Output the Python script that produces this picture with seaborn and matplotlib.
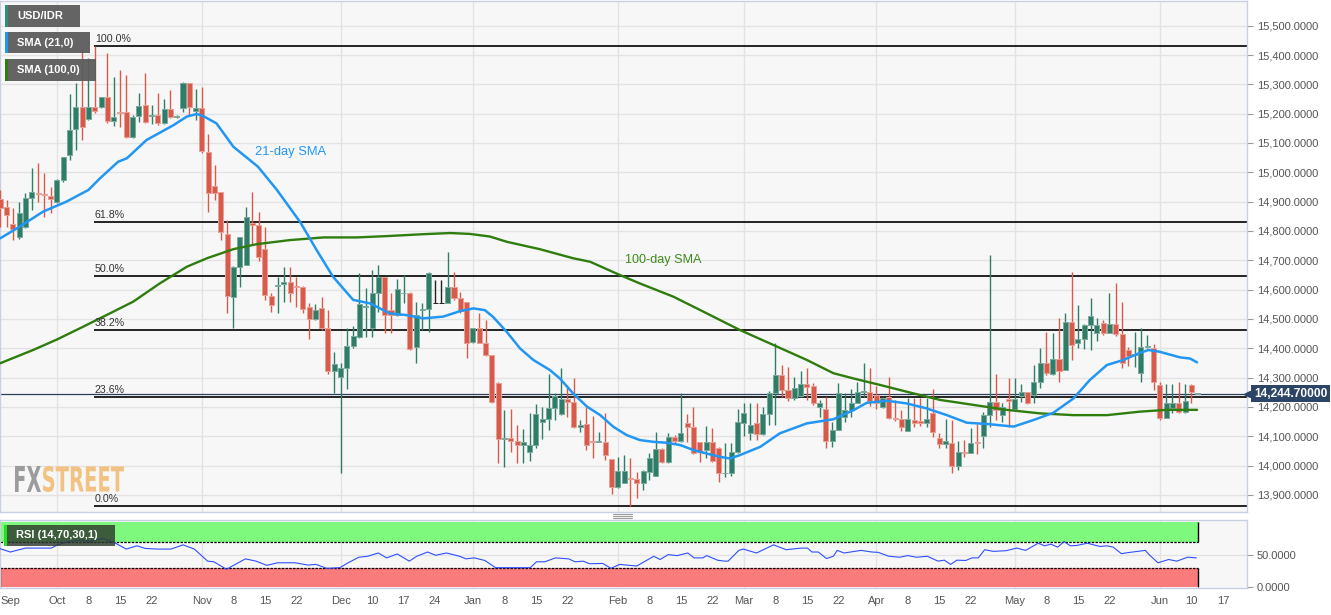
import numpy as np
import pandas as pd
import matplotlib
matplotlib.use("Agg")
import matplotlib.pyplot as plt
import seaborn as sns
from matplotlib.patches import Rectangle, PathPatch
from matplotlib.textpath import TextPath
from matplotlib.font_manager import FontProperties
from matplotlib.transforms import Affine2D
from matplotlib.lines import Line2D
from matplotlib.ticker import FuncFormatter

# ---------------- data (trading-day index: 0 = 1 Oct 2018) ----------------
FIRST_DAY = -9
OPEN = [14908,14883,14823,14778,14815,14913,14931,14926,14920,14900,
        14974,15059,15147,15224,15182,15223,15223,15257,15174,15205,
        15205,15119,15192,15228,15191,15194,15169,15215,15188,15218,
        15303,15210,15220,15070,14953,14932,14789,14576,14678,14684,
        14828,14820,14739,14579,14613,14619,14627,14613,14610,14540,
        14499,14538,14468,14324,14303,14332,14408,14440,14540,14468,
        14590,14642,14530,14513,14587,14587,14406,14531,14533,14553,
        14553,14555,14610,14570,14559,14423,14470,14417,14377,14283,
        14091,14095,14084,14071,14045,14070,14150,14158,14195,14176,
        14227,14216,14133,14141,14085,14082,14082,14021,13926,13942,
        13956,13953,13942,13979,13965,14055,14013,14099,14085,14144,
        14133,14079,14053,14079,14059,13973,13974,14047,14146,14112,
        14144,14108,14175,14246,14309,14258,14229,14238,14278,14272,
        14201,14193,14085,14121,14167,14190,14212,14252,14252,14241,
        14201,14235,14161,14158,14118,14155,14153,14146,14178,14093,
        14074,14076,14000,14047,14044,14078,14101,14172,14218,14172,
        14226,14192,14237,14252,14241,14286,14349,14312,14362,14326,
        14490,14419,14430,14479,14453,14485,14453,14483,14449,14394,
        14376,14315,14405,14402,14275,14161,14195,14214,14184,14275,14244]
HIGH = [14940,14905,14877,14900,14928,15014,15031,14999,14951,14976,
        15053,15266,15303,15417,15389,15431,15258,15406,15326,15349,
        15332,15195,15269,15338,15230,15269,15249,15281,15195,15309,
        15306,15283,15290,15131,15025,14934,14837,14680,14780,14883,
        14934,14866,14815,14587,14644,14676,14676,14644,14612,14553,
        14551,14576,14530,14388,14350,14468,14475,14656,14604,14667,
        14684,14644,14587,14635,14650,14593,14557,14555,14661,14633,
        14633,14729,14661,14593,14559,14470,14519,14496,14377,14286,
        14189,14192,14138,14124,14180,14210,14201,14311,14246,14332,
        14275,14297,14155,14201,14169,14116,14180,14021,14030,14036,
        14025,13979,13985,14042,14116,14059,14110,14104,14246,14175,
        14201,14081,14136,14127,14065,14078,14078,14192,14212,14212,
        14212,14201,14256,14417,14343,14335,14303,14324,14332,14280,
        14224,14235,14150,14283,14249,14260,14286,14351,14332,14273,
        14235,14303,14224,14190,14229,14229,14229,14229,14260,14112,
        14158,14155,14085,14087,14127,14142,14184,14718,14312,14215,
        14297,14297,14277,14252,14343,14400,14457,14451,14502,14519,
        14661,14548,14483,14570,14502,14496,14587,14621,14559,14405,
        14457,14468,14445,14413,14284,14278,14278,14286,14278,14278,14247]
LOW = [14815,14815,14769,14771,14809,14871,14900,14849,14860,14894,
       14968,15042,15076,15110,15178,15201,15218,15167,15159,15156,
       15116,15116,15173,15167,15165,15161,15165,15184,15184,15207,
       15195,15178,15065,14866,14906,14769,14521,14468,14610,14683,
       14752,14697,14565,14525,14521,14557,14559,14540,14521,14432,
       14496,14462,14312,14249,13976,14260,14400,14434,14437,14437,
       14525,14451,14451,14510,14553,14394,14351,14462,14457,14553,
       14553,14555,14565,14521,14366,14419,14417,14374,14212,14010,
       13996,14047,14008,14010,14017,14059,14090,14121,14155,14172,
       14167,14127,14116,14053,14025,14079,14019,13902,13925,13940,
       13862,13888,13917,13951,13965,14008,14008,14076,14081,14081,
       14040,14013,14025,14013,13943,13962,13964,14042,14100,14087,
       14087,14104,14139,14139,14235,14221,14224,14235,14224,14207,
       14167,14059,14062,14121,14150,14167,14212,14235,14204,14192,
       14195,14158,14153,14119,14118,14133,14135,14133,14096,14059,
       14059,13974,13985,14030,14042,14040,14059,14133,14155,14150,
       14130,14190,14218,14210,14212,14263,14309,14309,14286,14326,
       14360,14400,14397,14394,14426,14445,14451,14442,14332,14340,
       14337,14286,14400,14258,14155,14161,14180,14180,14180,14212,14243]
CLOSE = [14880,14854,14807,14862,14911,14932,14926,14921,14908,14974,
         15051,15144,15224,15153,15223,15209,15257,15174,15189,15201,
         15119,15190,15226,15173,15197,15168,15215,15188,15190,15306,
         15222,15220,15074,14928,14928,14798,14579,14678,14778,14847,
         14820,14710,14582,14548,14617,14627,14590,14610,14534,14500,
         14531,14468,14324,14346,14332,14408,14442,14551,14541,14590,
         14644,14513,14513,14601,14590,14396,14513,14535,14656,14553,
         14553,14610,14570,14527,14419,14470,14419,14377,14218,14090,
         14095,14084,14071,14081,14070,14176,14158,14195,14238,14227,
         14216,14133,14140,14070,14082,14085,14036,13928,13982,13982,
         13953,13942,13982,14027,14055,14013,14099,14085,14110,14133,
         14044,14047,14081,14015,13974,13976,14047,14147,14180,14139,
         14108,14175,14246,14309,14258,14229,14263,14278,14269,14212,
         14212,14085,14121,14246,14190,14212,14252,14255,14221,14212,
         14232,14161,14158,14133,14158,14146,14146,14158,14116,14074,
         14085,14000,14047,14042,14078,14076,14172,14218,14190,14199,
         14221,14226,14252,14215,14285,14349,14315,14362,14324,14490,
         14411,14430,14479,14510,14479,14453,14483,14449,14351,14374,
         14380,14405,14409,14286,14161,14214,14214,14184,14221,14252,14244.7]
DAY = list(range(FIRST_DAY, FIRST_DAY + len(OPEN)))

SMA21_DAY = [-9.0,-5.9,-2.2,1.5,5.0,6.8,9.7,11.1,14.2,18.5,20.6,22.2,23.2,25.3,28.0,
             31.9,34.9,38.6,41.2,43.8,47.0,49.7,52.8,55.5,58.1,61.3,64.0,66.1,67.9,
             69.2,71.4,73.5,75.6,78.2,79.8,81.9,84.1,86.2,88.3,90.4,92.5,94.6,96.7,
             98.9,101.0,103.1,105.2,106.8,108.4,111.6,114.7,119.0,123.2,126.4,128.5,
             131.7,134.8,138.0,141.2,144.4,147.5,151.8,154.9,158.1,161.3,163.9,166.6,
             169.2,171.9,173.2,175.0,178.2,179.8,180.9]
SMA21_VAL = [14775,14815,14866,14900,14940,14979,15036,15048,15110,15161,15190,15199,15192,
             15167,15087,15019,14940,14830,14735,14644,14565,14553,14519,14513,14502,14508,
             14527,14536,14530,14507,14455,14399,14360,14326,14297,14246,14201,14172,14132,
             14104,14087,14081,14078,14070,14053,14041,14030,14024,14036,14064,14110,14144,
             14158,14189,14214,14221,14212,14195,14172,14146,14142,14133,14155,14180,14229,
             14292,14343,14360,14385,14394,14388,14369,14365,14352]

SMA100_DAY = [-9.0,-3.8,0.0,4.2,8.4,12.1,16.3,20.6,23.8,28.0,31.7,37.0,42.3,47.6,52.8,
              58.1,62.4,65.5,68.7,71.4,76.6,81.9,84.6,89.3,92.5,97.8,102.0,105.7,108.4,
              113.7,119.0,123.2,126.4,130.6,134.8,140.1,145.4,150.7,156.0,161.3,166.6,
              171.9,176.1,180.9]
SMA100_VAL = [14349,14394,14430,14474,14519,14559,14621,14678,14707,14738,14755,14769,14778,
              14778,14783,14789,14793,14790,14781,14763,14738,14707,14695,14650,14621,14576,
              14531,14491,14462,14411,14360,14315,14297,14275,14252,14224,14207,14190,14178,
              14172,14172,14184,14190,14190]

RSI_DAY = [-9.0,-7.4,-5.0,-0.9,0.1,1.8,3.8,5.2,7.2,9.3,11.0,12.7,14.0,16.0,18.1,20.0,21.8,
           23.9,24.9,26.9,28.3,29.9,31.6,33.3,35.0,37.8,39.8,41.1,42.8,44.9,46.2,47.9,49.3,
           51.0,52.3,54.0,55.9,57.1,58.8,60.1,61.8,63.9,64.9,66.2,67.9,69.6,72.3,75.1,76.1,
           77.4,79.1,81.2,82.2,83.5,84.5,86.6,87.9,89.3,92.0,94.7,95.7,97.0,98.4,100.1,101.1,
           102.5,103.1,104.8,105.9,106.5,108.2,108.9,111.0,113.7,115.7,118.1,119.1,119.8,
           120.8,122.1,123.2,123.8,124.9,127.6,129.3,130.3,132.0,133.7,135.0,136.4,138.1,
           139.8,140.8,141.8,142.8,144.2,145.2,146.2,147.2,148.6,150.6,152.3,153.7,155.7,
           156.7,157.7,158.8,159.8,160.8,161.8,163.5,165.5,166.6,167.6,168.9,170.3,172.7,
           173.3,174.7,176.4,177.7,179.4,180.8]
RSI_VAL = [59,54,60,60,65,70,72.5,70,75,67.5,58.5,63.5,59.5,58.5,58.5,65,58.5,
           40,39,27.5,35,43.5,40,33.5,37.5,37.5,34,35,29,30,37.5,46,47.5,
           52.5,45,51,40,47.5,54,49,52.5,47.5,43.5,45,41,30,30,30,39,
           39,45,43.5,39,40,36,36.5,29,35,32.5,47.5,42.5,50,48.5,52.5,45,
           45,48.5,41.5,40,40,56.5,58.5,52.5,65,57.5,60,60,54,
           54,44,47.5,56.5,52.5,56.5,54,53.5,47.5,46,48.5,46,47.5,
           40,41.5,35,41.5,41,45,45,57.5,55,56,60,56.5,67.5,
           63.5,66,61.5,70,63.5,64,67.5,62.5,63.5,61.5,51.5,53.5,56.5,
           50,37.5,42.5,40,46,45]

FIB_HIGH, FIB_LOW, FIB_START_DAY = 15431, 13862, 6
FIB_RATIOS = [1.0, 0.618, 0.5, 0.382, 0.236, 0.0]
FIB_LABELS = ["100.0%", "61.8%", "50.0%", "38.2%", "23.6%", "0.0%"]
LAST_PRICE = 14244.70
MONTH_DAYS = [0, 23, 45, 66, 89, 109, 130, 152, 175]
TICK_DAYS = [-7.4, 0, 5, 10, 15, 23, 28, 33, 38, 45, 50, 55, 60, 66, 71, 76, 81, 89, 94, 99, 104,
             109, 114, 119, 124, 130, 135, 140, 145, 152, 157, 162, 167, 175, 180, 185]
TICK_LABELS = ["Sep", "Oct", "8", "15", "22", "Nov", "8", "15", "22", "Dec", "10", "17", "24",
               "Jan", "8", "15", "22", "Feb", "8", "15", "22", "Mar", "8", "15", "22", "Apr",
               "8", "15", "22", "May", "8", "15", "22", "Jun", "10", "17"]
PRICE_TICKS = list(range(13900, 15501, 100))

# ---------------- style ----------------
W, H = 1331, 615
sns.set_theme(style="white")
plt.rcParams['font.family'] = ['Liberation Sans', 'DejaVu Sans']

GREEN, RED, BLACK = '#2f7d68', '#d85a4b', '#222222'
GREEN_E, RED_E = '#79ab9d', '#e9a096'
BG = '#f7f7f7'
GRID = '#e3e3e3'
SPINE = '#c9d0e2'
TXT = '#555555'
NAVY = '#2c4466'

fig = plt.figure(figsize=(W / 100, H / 100), dpi=100)
fig.patch.set_facecolor('white')

XMIN, XMAX = -9.04, 188.83


def fx(px):
    return px / W


def fy(py):
    return 1 - py / H


ax = fig.add_axes([0, fy(512), fx(1247), (512 - 1) / H])
axr = fig.add_axes([0, fy(588), fx(1247), (588 - 520) / H])

for a in (ax, axr):
    a.set_facecolor(BG)
    a.set_xlim(XMIN, XMAX)
    for s in a.spines.values():
        s.set_color(SPINE)
        s.set_linewidth(1)
    for d in MONTH_DAYS:
        a.axvline(d, color=GRID, lw=1, zorder=0)

# ---------------- main panel ----------------
ax.set_ylim(13841.7, 15584.2)
ax.yaxis.tick_right()
ax.set_yticks(PRICE_TICKS)
ax.yaxis.set_major_formatter(FuncFormatter(lambda v, p: f"{v:,.4f}"))
ax.tick_params(axis='y', colors='#999999', labelcolor=TXT, labelsize=8, length=4, width=0.8, pad=3)
ax.set_xticks([])
for v in PRICE_TICKS:
    ax.axhline(v, color=GRID, lw=1, zorder=0)

df = pd.DataFrame(dict(day=DAY, open=OPEN, high=HIGH, low=LOW, close=CLOSE))
direction = np.sign(df['close'] - df['open'])
col = direction.map({1.0: GREEN, -1.0: RED, 0.0: BLACK}).tolist()
ecol = direction.map({1.0: GREEN_E, -1.0: RED_E, 0.0: BLACK}).tolist()
ax.vlines(df['day'], df['low'], df['high'], colors=col, lw=1.0, zorder=3)
body_bottom = np.minimum(df['open'], df['close'])
body_h = np.maximum(np.abs(df['close'] - df['open']), 3.0)
ax.bar(df['day'], body_h, bottom=body_bottom, width=0.8, color=col, edgecolor=ecol,
       linewidth=0.7, zorder=4)

# fibonacci levels
for r, lab in zip(FIB_RATIOS, FIB_LABELS):
    lvl = FIB_LOW + r * (FIB_HIGH - FIB_LOW)
    ax.hlines(lvl, FIB_START_DAY - 0.1, XMAX, color='black', lw=1.2, zorder=2)
    ax.annotate(lab, xy=(FIB_START_DAY, lvl), xytext=(0, 1.5), textcoords='offset points',
                ha='left', va='bottom', fontsize=7.7, color='#333333', zorder=6)

# moving averages
sns.lineplot(x=SMA100_DAY, y=SMA100_VAL, ax=ax, color='#2f7d0e', linewidth=1.7,
             estimator=None, sort=False, zorder=5)
sns.lineplot(x=SMA21_DAY, y=SMA21_VAL, ax=ax, color='#2196f3', linewidth=1.8,
             estimator=None, sort=False, zorder=5)
ax.text(37.0, 15068, "21-day SMA", color='#2196f3', fontsize=9.3, ha='center', va='center', zorder=6)
ax.text(96.2, 14702, "100-day SMA", color='#3d8b1a', fontsize=9.1, ha='center', va='center', zorder=6)

# last price line & tag
ax.axhline(LAST_PRICE, color='#2c3e5c', lw=0.9, zorder=2)
ax.annotate(f"{LAST_PRICE:,.5f}", xy=(1.0, LAST_PRICE), xycoords=('axes fraction', 'data'),
            xytext=(5, 0), textcoords='offset points', ha='left', va='center', color='white',
            fontweight='bold', fontsize=8.6, annotation_clip=False, zorder=10,
            bbox=dict(boxstyle='square,pad=0.22', fc=NAVY, ec='none'))
ax.plot([1.0], [LAST_PRICE], marker='<', ms=5, color=NAVY, transform=ax.get_yaxis_transform(),
        clip_on=False, zorder=10)

# ---------------- RSI panel ----------------
axr.set_ylim(-1.2, 103.1)
axr.axhline(50, color=GRID, lw=1, zorder=0)
x0, x1 = DAY[0] - 0.05, DAY[-1]
axr.fill_between([x0, x1], 70, 100, color='#7ef97e', lw=0, zorder=1)
axr.fill_between([x0, x1], 0, 30, color='#f97b7b', lw=0, zorder=1)
axr.hlines([70, 30], x0, x1, colors='black', lw=0.9, linestyles=(0, (2, 1)), zorder=2)
axr.vlines([x1, x1], [70, 0], [100, 30], colors='black', lw=1, zorder=2)
axr.vlines([x0], [0], [30], colors='black', lw=1, zorder=2)
sns.lineplot(x=RSI_DAY, y=RSI_VAL, ax=axr, color='#2f50ff', linewidth=0.8,
             estimator=None, sort=False, zorder=3)
axr.yaxis.tick_right()
axr.set_yticks([0, 50])
axr.set_yticklabels(["0.0000", "50.0000"])
axr.tick_params(axis='y', colors='#999999', labelcolor=TXT, labelsize=8, length=4, width=0.8, pad=3)
axr.set_xticks(TICK_DAYS)
axr.set_xticklabels(TICK_LABELS)
axr.tick_params(axis='x', length=0, labelsize=8, labelcolor=TXT, pad=6)
for a in (ax, axr):
    a.set_xlabel('')
    a.set_ylabel('')

# ---------------- overlays: legend boxes ----------------
def label_box(x0p, y0p, x1p, y1p, stripe, text, face='#5c5c5c', alpha=0.95):
    fig.add_artist(Rectangle((fx(x0p), fy(y1p)), fx(x1p - x0p), (y1p - y0p) / H,
                             transform=fig.transFigure, fc=face, ec='none', alpha=alpha, zorder=20))
    fig.add_artist(Rectangle((fx(x0p), fy(y1p)), fx(2.5), (y1p - y0p) / H,
                             transform=fig.transFigure, fc=stripe, ec='none', zorder=21))
    fig.text(fx(x0p + 12), fy((y0p + y1p) / 2), text, color='white', fontsize=8,
             fontweight='bold', va='center', ha='left', zorder=22)


label_box(5, 5, 80, 27, '#2f8f7a', "USD/IDR")
label_box(5, 32, 90, 53, '#2196f3', "SMA (21,0)")
label_box(5, 59, 96, 81, '#2f7d0e', "SMA (100,0)")
label_box(4, 525, 115, 546, '#22e022', "RSI (14,70,30,1)", face='#2e3a2e', alpha=0.82)


# ---------------- watermark ----------------
def squashed(text, x0p, x1p, ytop, ybot, color):
    fp = FontProperties(family='DejaVu Sans', weight='bold')
    tp = TextPath((0, 0), text, size=100, prop=fp)
    bb = tp.get_extents()
    tr = (Affine2D().translate(-bb.x0, -bb.y0)
          .scale((x1p - x0p) / bb.width, (ybot - ytop) / bb.height)
          .translate(x0p, H - ybot).scale(1 / W, 1 / H))
    fig.add_artist(PathPatch(tr.transform_path(tp), transform=fig.transFigure,
                             fc=color, ec='none', zorder=15))


squashed("FX", 15, 41, 466, 492, '#9c9c9c')
squashed("STREET", 43, 124, 466, 492, '#f2c283')

# resize grip
for yy in (513.5, 515.8, 518.1):
    fig.add_artist(Line2D([fx(613), fx(632)], [fy(yy), fy(yy)], transform=fig.transFigure,
                          color='#9a9a9a', lw=0.8))

fig.savefig("out.png", dpi=100, facecolor='white')
